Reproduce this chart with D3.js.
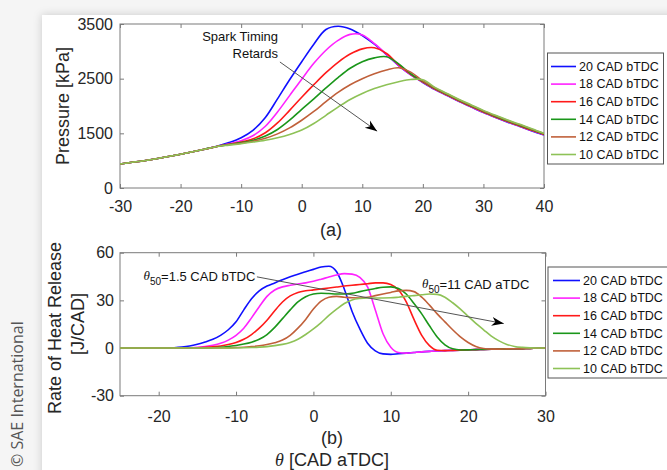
<!DOCTYPE html>
<html>
<head>
<meta charset="utf-8">
<script src="https://cdn.jsdelivr.net/npm/d3@7/dist/d3.min.js"></script>
<style>
  html, body { margin: 0; padding: 0; background: #f5f5f5; }
  svg { display: block; }
  text { font-family: "Liberation Sans", Arial, Helvetica, sans-serif; }
</style>
</head>
<body>
<svg id="chart" width="667" height="470"></svg>
<script>
// ---- series ----
const seriesNames  = ["20 CAD bTDC", "18 CAD bTDC", "16 CAD bTDC", "14 CAD bTDC", "12 CAD bTDC", "10 CAD bTDC"];
const seriesColors = ["#1010ff", "#ff22ff", "#ff1a1a", "#1a961a", "#c0603a", "#8ec257"];

// ---- (a) cylinder pressure [kPa] vs crank angle ----
const thetaP = [-30,-28,-26,-24,-22,-20,-18,-16,-14,-12,-10,-8,-6,-4,-2,0,2,4,6,8,10,12,14,16,18,20,22,24,26,28,30,32,34,36,38,40];
const pressure20 = [940,970,1000,1035,1075,1118,1162,1210,1262,1330,1420,1560,1790,2130,2480,2810,3130,3400,3460,3410,3290,3130,2940,2740,2570,2430,2300,2190,2080,1980,1880,1790,1705,1625,1545,1470];
const pressure18 = [940,970,1000,1035,1075,1118,1162,1210,1260,1310,1365,1460,1630,1890,2190,2490,2780,3020,3200,3310,3300,3140,2945,2745,2575,2435,2305,2195,2085,1985,1885,1795,1710,1630,1550,1475];
const pressure16 = [940,970,1000,1035,1075,1118,1162,1210,1260,1300,1340,1400,1510,1690,1920,2160,2390,2610,2800,2950,3045,3065,2960,2755,2580,2440,2310,2200,2090,1990,1890,1800,1715,1635,1555,1480];
const pressure14 = [940,970,1000,1035,1075,1118,1162,1210,1260,1295,1330,1375,1450,1570,1740,1940,2130,2330,2520,2690,2810,2880,2900,2770,2590,2450,2320,2210,2100,2000,1900,1810,1725,1645,1565,1488];
const pressure12 = [940,970,1000,1035,1075,1118,1162,1210,1260,1290,1320,1355,1410,1490,1600,1740,1900,2080,2250,2390,2500,2590,2660,2700,2620,2460,2330,2220,2110,2010,1910,1820,1735,1655,1575,1495];
const pressure10 = [940,970,1000,1035,1075,1118,1162,1210,1260,1285,1310,1340,1375,1420,1480,1560,1680,1830,1980,2120,2230,2320,2390,2445,2485,2480,2340,2230,2120,2020,1920,1830,1745,1665,1585,1500];
const pressureTicksX = [-30,-20,-10,0,10,20,30,40];
const pressureTicksY = [500,1500,2500,3500];
const pressureTickLabelsY = ["0","1500","2500","3500"];

// ---- (b) rate of heat release [J/CAD] vs crank angle ----
const thetaH = [-25,-24,-23,-22,-21,-20,-19,-18,-17,-16,-15,-14,-13,-12,-11,-10,-9,-8,-7,-6,-5,-4,-3,-2,-1,
                0,1,2,3,4,5,6,7,8,9,10,11,12,13,14,15,16,17,18,19,20,21,22,23,24,25,26,27,28,29,30];
const hrr20 = [0,0,0,0,0,0,0.05,0.2,0.6,1.3,2.4,3.8,5.5,8,11.5,16.5,24,31,36,39,41,43,44.8,46.5,48,
               49.5,51,51.5,48,37,23,12,3,-1.8,-3.7,-4,-3.6,-3.2,-2.8,-2.4,-2.1,-1.85,-1.65,-1.45,-1.3,-1.15,-1,-0.9,-0.8,-0.7,-0.55,-0.45,-0.35,-0.25,-0.1,0];
const hrr18 = [0,0,0,0,0,0,0,0,0.05,0.15,0.4,1,1.8,3,5,8,12.5,19,26,32.5,36.5,38.5,39.5,40.3,41,
               42,43.3,44.7,46,46.8,46.5,44.5,38.5,24,9,0.5,-2.8,-3.2,-2.8,-2.4,-2.1,-1.85,-1.65,-1.45,-1.3,-1.15,-1,-0.9,-0.8,-0.7,-0.55,-0.45,-0.35,-0.25,-0.1,0];
const hrr16 = [0,0,0,0,0,0,0,0,0,0.05,0.15,0.4,0.8,1.3,2.2,3.5,5.5,8.5,12.5,17.5,23.5,29,32.8,35,36,
               36.6,37.2,37.8,38.4,39,39.5,40,40.5,41,41,40,36.5,29,18,8,1.5,-1.4,-1.6,-1.45,-1.3,-1.15,-1,-0.9,-0.8,-0.7,-0.55,-0.45,-0.35,-0.25,-0.1,0];
const hrr14 = [0,0,0,0,0,0,0,0,0,0,0,0.05,0.2,0.5,1,1.6,2.5,3.7,5.5,8.5,13,18.5,24,29,32.3,
               34,34.5,34.3,34,34,34.5,35.5,36.5,37.5,38.3,38.5,37.5,34,28,21.5,14,7,2,-0.5,-1.2,-1.15,-1,-0.9,-0.8,-0.7,-0.55,-0.45,-0.35,-0.25,-0.1,0];
const hrr12 = [0,0,0,0,0,0,0,0,0,0,0,0,0,0.05,0.1,0.3,0.5,0.9,1.4,2.2,3.3,5,8,12.5,18,
               24.5,29.5,32,32.5,32,31.6,31.5,32,33,34,35,36,36.3,35.5,32,27,21.5,16.5,11.5,7,3.5,1,-0.3,-0.7,-0.7,-0.55,-0.45,-0.35,-0.25,-0.1,0];
const hrr10 = [0,0,0,0,0,0,0,0,0,0,0,0,0,0,0,0.05,0.15,0.3,0.55,0.9,1.5,2.3,3.5,5.5,8.5,
               12,16,20.5,24.5,28,30.3,31.2,31.5,31.5,31.5,31.6,32,32.5,33,33.5,34,33.8,32,28.5,24.5,20,15.5,11.5,7.5,4.5,2.3,1,0.4,0.1,0,0];
const hrrTicksX = [-20,-10,0,10,20,30];
const hrrTicksY = [-30,0,30,60];

const pressureSeries = [pressure20, pressure18, pressure16, pressure14, pressure12, pressure10];
const hrrSeries = [hrr20, hrr18, hrr16, hrr14, hrr12, hrr10];

// ---- canvas ----
const svg = d3.select("#chart");
const defs = svg.append("defs");

const shadow = defs.append("filter").attr("id", "cardShadow")
  .attr("x", "-10%").attr("y", "-10%").attr("width", "120%").attr("height", "120%");
shadow.append("feDropShadow").attr("dx", 0).attr("dy", 0).attr("stdDeviation", 4)
  .attr("flood-color", "#000").attr("flood-opacity", 0.18);

defs.append("marker").attr("id", "arrowHead")
  .attr("viewBox", "-12 -6 14 12").attr("markerWidth", 14).attr("markerHeight", 12)
  .attr("markerUnits", "userSpaceOnUse").attr("refX", 0).attr("refY", 0).attr("orient", "auto")
  .append("path").attr("d", "M0,0 L-12,-4.5 L-8.5,0 L-12,4.5 Z").attr("fill", "#000");

svg.append("rect").attr("width", 667).attr("height", 470).attr("fill", "#f5f5f5");
svg.append("rect").attr("x", 42).attr("y", 15).attr("width", 640).attr("height", 470)
  .attr("fill", "#fff").attr("filter", "url(#cardShadow)");

svg.append("text")
  .attr("transform", "translate(23,467) rotate(-90)")
  .attr("text-anchor", "start")
  .style("font-family", "'Open Sans', 'Noto Sans', sans-serif")
  .style("font-size", "16px").attr("fill", "#555")
  .text("© SAE International");

const frameColor = "#7a7a7a";
const tickColor = "#262626";
const plainNumber = d => String(d);

function drawPanel(cfg) {
  const x = d3.scaleLinear().domain(cfg.xDomain).range([cfg.left, cfg.right]);
  const y = d3.scaleLinear().domain(cfg.yDomain).range([cfg.bottom, cfg.top]);
  const g = svg.append("g");

  const styleAxis = sel => {
    sel.select(".domain").remove();
    sel.selectAll(".tick line").attr("stroke", frameColor);
    sel.selectAll(".tick text").attr("fill", tickColor)
      .style("font-family", "'Liberation Sans', Arial, sans-serif").style("font-size", "16px");
  };

  g.append("g").attr("transform", `translate(0,${cfg.bottom})`)
    .call(d3.axisBottom(x).tickValues(cfg.xTicks).tickFormat(plainNumber)
      .tickSizeInner(-4).tickSizeOuter(0).tickPadding(cfg.xPad))
    .call(styleAxis);
  g.append("g").attr("transform", `translate(0,${cfg.top})`)
    .call(d3.axisTop(x).tickValues(cfg.xTicks).tickFormat("").tickSizeInner(-4).tickSizeOuter(0))
    .call(styleAxis);
  g.append("g").attr("transform", `translate(${cfg.left},0)`)
    .call(d3.axisLeft(y).tickValues(cfg.yTicks)
      .tickFormat((d, i) => cfg.yLabels ? cfg.yLabels[i] : plainNumber(d))
      .tickSizeInner(-4).tickSizeOuter(0).tickPadding(cfg.yPad))
    .call(styleAxis);
  g.append("g").attr("transform", `translate(${cfg.right},0)`)
    .call(d3.axisRight(y).tickValues(cfg.yTicks).tickFormat("").tickSizeInner(-4).tickSizeOuter(0))
    .call(styleAxis);

  g.append("rect").attr("x", cfg.left).attr("y", cfg.top)
    .attr("width", cfg.right - cfg.left).attr("height", cfg.bottom - cfg.top)
    .attr("fill", "none").attr("stroke", frameColor).attr("stroke-width", 1);

  const line = d3.line()
    .x((d, i) => x(cfg.theta[i]))
    .y(d => y(d))
    .curve(cfg.curve);
  const clipId = "clip" + cfg.id;
  defs.append("clipPath").attr("id", clipId).append("rect")
    .attr("x", cfg.left).attr("y", cfg.top).attr("width", cfg.right - cfg.left).attr("height", cfg.bottom - cfg.top);
  g.append("g").attr("clip-path", `url(#${clipId})`)
    .selectAll("path").data(cfg.series).join("path")
    .attr("d", d => line(d))
    .attr("fill", "none")
    .attr("stroke", (d, i) => seriesColors[i])
    .attr("stroke-width", 1.6)
    .attr("stroke-linejoin", "round");

  // legend
  const lg = svg.append("g");
  lg.append("rect").attr("x", cfg.legend.x).attr("y", cfg.legend.y)
    .attr("width", cfg.legend.w).attr("height", cfg.legend.h)
    .attr("fill", "#fff").attr("stroke", "#555").attr("stroke-width", 1);
  const rows = lg.selectAll("g").data(seriesNames).join("g")
    .attr("transform", (d, i) => `translate(0,${cfg.legend.y + 13.5 + i * 17.6})`);
  rows.append("line").attr("x1", cfg.legend.x1).attr("x2", cfg.legend.x2)
    .attr("stroke", (d, i) => seriesColors[i]).attr("stroke-width", 1.6);
  rows.append("text").attr("x", cfg.legend.tx).attr("dy", "0.35em")
    .style("font-size", "12.5px").attr("fill", "#111").text(d => d);

  return { x, y };
}

// ---- panel (a) ----
const pa = drawPanel({
  id: "a", left: 120, right: 544, top: 24, bottom: 188,
  xDomain: [-30, 40], yDomain: [500, 3500],
  xTicks: pressureTicksX, yTicks: pressureTicksY, yLabels: pressureTickLabelsY,
  xPad: 13, yPad: 7,
  theta: thetaP, series: pressureSeries, curve: d3.curveCatmullRom.alpha(0.5),
  legend: { x: 547.5, y: 53, w: 116, h: 111, x1: 551, x2: 576, tx: 579 }
});

svg.append("text").attr("transform", "translate(63,106) rotate(-90)")
  .attr("text-anchor", "middle").attr("dy", "0.35em")
  .style("font-size", "18px").attr("fill", "#262626").text("Pressure [kPa]");
svg.append("text").attr("x", 331).attr("y", 236).attr("text-anchor", "middle")
  .style("font-size", "18px").attr("fill", "#262626").text("(a)");

// annotation: spark timing retards
svg.append("text").attr("x", pa.x(-3.9)).attr("y", pa.y(3190)).attr("text-anchor", "end")
  .style("font-size", "13px").attr("fill", "#111").text("Spark Timing");
svg.append("text").attr("x", pa.x(-3.9)).attr("y", pa.y(2880)).attr("text-anchor", "end")
  .style("font-size", "13px").attr("fill", "#111").text("Retards");
svg.append("line")
  .attr("x1", pa.x(-3.6)).attr("y1", pa.y(2805))
  .attr("x2", pa.x(12.45)).attr("y2", pa.y(1540))
  .attr("stroke", "#555").attr("stroke-width", 1).attr("marker-end", "url(#arrowHead)");

// ---- panel (b) ----
const pb = drawPanel({
  id: "b", left: 120, right: 545.5, top: 252.7, bottom: 395.7,
  xDomain: [-25, 30], yDomain: [-30, 60],
  xTicks: hrrTicksX, yTicks: hrrTicksY, yLabels: null,
  xPad: 14.5, yPad: 6,
  theta: thetaH, series: hrrSeries, curve: d3.curveMonotoneX,
  legend: { x: 548, y: 267, w: 121, h: 111, x1: 553, x2: 580, tx: 583 }
});

svg.append("text").attr("transform", "translate(55,328) rotate(-90)")
  .attr("text-anchor", "middle").attr("dy", "0.35em")
  .style("font-size", "18px").attr("fill", "#262626").text("Rate of Heat Release");
svg.append("text").attr("transform", "translate(78,324) rotate(-90)")
  .attr("text-anchor", "middle").attr("dy", "0.35em")
  .style("font-size", "18px").attr("fill", "#262626").text("[J/CAD]");
svg.append("text").attr("x", 332).attr("y", 444).attr("text-anchor", "middle")
  .style("font-size", "18px").attr("fill", "#262626").text("(b)");

const xLabel = svg.append("text").attr("x", 332).attr("y", 466).attr("text-anchor", "middle")
  .style("font-size", "18px").attr("fill", "#262626");
xLabel.append("tspan").style("font-family", "'Liberation Serif', 'Times New Roman', serif")
  .style("font-style", "italic").text("θ");
xLabel.append("tspan").text(" [CAD aTDC]");

// annotation: 50% burn angles
function thetaLabel(xPos, yPos, anchor, rest) {
  const t = svg.append("text").attr("x", xPos).attr("y", yPos).attr("text-anchor", anchor)
    .style("font-size", "13px").attr("fill", "#111");
  t.append("tspan").style("font-family", "'Liberation Serif', 'Times New Roman', serif")
    .style("font-style", "italic").attr("dy", "-1").text("θ");
  t.append("tspan").style("font-size", "10px").attr("dy", "5").text("50");
  t.append("tspan").attr("dy", "-4").text(rest);
}
thetaLabel(pb.x(-7.5), pb.y(42.2), "end", "=1.5 CAD bTDC");
thetaLabel(pb.x(14.05), pb.y(37), "start", "=11 CAD aTDC");
svg.append("line")
  .attr("x1", pb.x(-7.3)).attr("y1", pb.y(44.8))
  .attr("x2", pb.x(24.6)).attr("y2", pb.y(15.4))
  .attr("stroke", "#555").attr("stroke-width", 1).attr("marker-end", "url(#arrowHead)");
</script>
</body>
</html>
